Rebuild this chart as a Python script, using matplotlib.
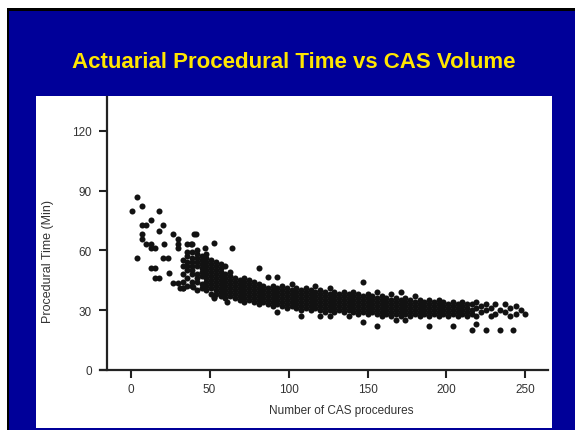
import matplotlib
matplotlib.use("Agg")
import matplotlib.pyplot as plt
from matplotlib.patches import Rectangle

# ---------------- data ----------------
title = "Actuarial Procedural Time vs CAS Volume"
xlabel = "Number of CAS procedures"
ylabel = "Procedural Time (Min)"
xticks = [0, 50, 100, 150, 200, 250]
yticks = [0, 30, 60, 90, 120]

# sparse early points and outliers
sparse_x = [1, 3.8, 7, 18, 7, 9.7, 12.7, 20.6, 18, 7, 7, 10, 12.7, 12.7, 15.3,
            26.6, 21.3, 29.7, 29.7, 29.7, 35.4, 38, 40, 3.8, 20.6, 23.8, 12.7,
            15.3, 24.4, 15.3, 18, 27, 29.7, 31, 33, 41.3, 52.7, 47, 64, 38.6,
            39.5, 53, 61, 52.7, 87, 93]
sparse_y = [80, 87, 82.5, 80, 72.7, 72.7, 75.5, 72.7, 70, 68, 65.8, 63, 63, 61, 61,
            68, 63, 65.5, 63, 61, 63, 63, 68, 56, 56, 56, 51,
            51, 48.5, 46, 46, 43.5, 43.5, 41, 41, 68.3, 63.5, 61, 61, 63,
            41.5, 36, 34, 36.5, 46.5, 46.5]

# dense band, segment A (x 33-66)
segA_x = [33, 36, 39, 42, 45, 48, 51, 54, 57, 60, 63, 66]
segA_y = [[41, 44, 48, 52, 55],
          [42, 46, 50, 52, 54, 57, 59],
          [42, 44, 48, 50, 52, 54, 56, 59],
          [40, 44, 46, 48, 52, 54, 56, 58, 60],
          [41, 43, 47, 49, 51, 53, 55, 57],
          [40, 42, 44, 46, 48, 50, 52, 54, 56, 58],
          [38, 41, 43, 45, 47, 49, 51, 53, 55],
          [38, 40, 42, 44, 46, 48, 50, 52, 54],
          [37, 39, 41, 43, 45, 47, 49, 51, 53],
          [36, 38, 40, 42, 44, 46, 48, 52],
          [37, 39, 41, 43, 45, 47, 49],
          [36, 38, 40, 42, 44, 46]]

# dense band, segment B (x 69-129)
segB_x = [69, 72, 75, 78, 81, 84, 87, 90, 93, 96, 99, 102, 105, 108, 111, 114,
          117, 120, 123, 126, 129]
segB_y = [[35, 37, 39, 41, 43, 45],
          [34, 36, 38, 40, 42, 44, 46],
          [35, 37, 39, 41, 43, 45],
          [34, 36, 38, 40, 42, 44],
          [33, 35, 37, 39, 41, 43, 51],
          [34, 36, 38, 40, 42],
          [33, 35, 37, 39, 41],
          [32, 34, 36, 38, 40, 42],
          [29, 33, 35, 37, 39, 41],
          [32, 34, 36, 38, 40, 42],
          [31, 33, 35, 37, 39, 41],
          [32, 34, 36, 38, 40, 43],
          [31, 33, 35, 37, 39, 41],
          [27, 30, 32, 34, 36, 38, 40],
          [31, 33, 35, 37, 39, 41],
          [30, 32, 34, 36, 38, 40],
          [31, 33, 35, 37, 39, 42],
          [27, 30, 32, 34, 36, 38, 40],
          [29, 31, 33, 35, 37, 39],
          [27, 30, 32, 34, 36, 38, 41],
          [29, 31, 33, 35, 37, 39]]

# dense band, segment C (x 132-177)
segC_x = [132, 135, 138, 141, 144, 147, 150, 153, 156, 159, 162, 165, 168,
          171, 174, 177]
segC_y = [[30, 32, 34, 36, 38],
          [29, 31, 33, 35, 37, 39],
          [27, 30, 32, 34, 36, 38],
          [29, 31, 33, 35, 37, 39],
          [28, 30, 32, 34, 36, 38],
          [24, 29, 31, 33, 35, 37, 44],
          [28, 30, 32, 34, 36, 38],
          [29, 31, 33, 35, 37],
          [22, 28, 30, 32, 34, 36, 39],
          [27, 29, 31, 33, 35, 37],
          [28, 30, 32, 34, 36],
          [27, 29, 31, 33, 35, 38],
          [25, 28, 30, 32, 34, 36],
          [27, 29, 31, 33, 35, 39],
          [25, 28, 30, 32, 34, 36],
          [27, 29, 31, 33, 35]]

# segment D (x 180-250)
segD_x = [180, 183, 186, 189, 192, 195, 198, 201, 204, 207, 210, 213, 216,
          219, 222, 225, 228, 231, 234, 237, 240, 242, 244, 247, 250]
segD_y = [[28, 30, 32, 34, 37],
          [27, 29, 31, 33, 35],
          [28, 30, 32, 34],
          [22, 27, 29, 31, 33, 35],
          [28, 30, 32, 34],
          [27, 29, 31, 33, 35],
          [28, 30, 32, 34],
          [27, 29, 31, 33],
          [22, 28, 30, 32, 34],
          [27, 29, 31, 33],
          [28, 30, 32, 34],
          [27, 29, 31, 33],
          [20, 28, 30, 33],
          [23, 27, 31, 34],
          [29, 32],
          [20, 30, 33],
          [27, 31],
          [28, 33],
          [20, 30],
          [29, 33],
          [27, 31],
          [20],
          [28, 32],
          [30],
          [28]]

# ---------------- figure ----------------
W, H = 575, 431
BLUE = "#000099"
YELLOW = "#FFE600"
plt.rcParams['font.family'] = ['Liberation Sans', 'DejaVu Sans']

fig = plt.figure(figsize=(W / 100, H / 100), dpi=100, facecolor='white')


def rect(x0, y0, x1, y1, color):
    fig.patches.append(Rectangle((x0 / W, 1 - y1 / H), (x1 - x0) / W, (y1 - y0) / H,
                                 transform=fig.transFigure, facecolor=color,
                                 edgecolor='none', zorder=-10))


rect(6.5, 9, W + 10, H + 10, 'black')
rect(9.3, 11.7, W + 10, H + 10, BLUE)
rect(36, 97, 552, 429, 'white')

fig.text(294 / W, 1 - 63 / H, title, color=YELLOW, fontsize=16,
         fontweight='bold', ha='center', va='center')

ax = fig.add_axes([100 / W, 1 - 371 / H, 448 / W, (371 - 98) / H])
ax.patch.set_alpha(0)
ax.set_xlim(-19.4, 264.3)
ax.set_ylim(0, 137)

xs, ys = list(sparse_x), list(sparse_y)
for cx, cy in [(segA_x, segA_y), (segB_x, segB_y), (segC_x, segC_y), (segD_x, segD_y)]:
    for x, col in zip(cx, cy):
        for y in col:
            xs.append(x)
            ys.append(y)
ax.scatter(xs, ys, s=19, c='#121212', linewidths=0, zorder=3, clip_on=False)

for s in ['top', 'right']:
    ax.spines[s].set_visible(False)
ax.spines['left'].set_position(('data', -15))
for s in ['left', 'bottom']:
    ax.spines[s].set_linewidth(1.6)
    ax.spines[s].set_color('#222222')

ax.set_xticks(xticks)
ax.set_yticks(yticks)
ax.tick_params(axis='x', direction='out', length=6, width=1.5, color='#222222',
               labelsize=8.5, labelcolor='#333333', pad=3.5)
ax.tick_params(axis='y', direction='out', length=6, width=1.5, color='#222222',
               labelsize=8.5, labelcolor='#333333', pad=5)

fig.text(341 / W, 1 - 411 / H, xlabel, fontsize=8.5, color='#333333',
         ha='center', va='center')
fig.text(48 / W, 1 - 262 / H, ylabel, fontsize=9, color='#333333',
         ha='center', va='center', rotation=90)

fig.savefig('out.png', dpi=100, facecolor=fig.get_facecolor())
